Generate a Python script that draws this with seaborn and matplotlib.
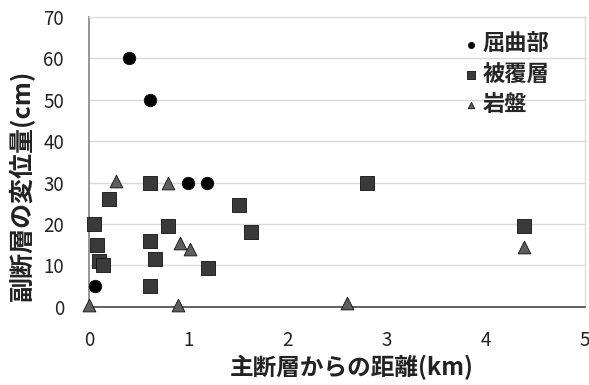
import matplotlib
matplotlib.use("Agg")
import matplotlib.pyplot as plt
import seaborn as sns
import pandas as pd

categories = ["屈曲部", "被覆層", "岩盤"]

bend_x = [0.40, 0.62, 1.00, 1.19, 0.06]
bend_y = [60, 50, 30, 30, 5]

cover_x = [0.05, 0.08, 0.10, 0.14, 0.20, 0.62, 0.62, 0.62, 0.67, 0.80, 1.20, 1.51, 1.63, 2.80, 4.39]
cover_y = [20, 15, 11, 10, 26, 30, 16, 5, 11.5, 19.5, 9.5, 24.5, 18, 30, 19.5]

rock_x = [0.27, 0.80, 0.92, 1.02, 0.90, 0.00, 2.60, 4.39]
rock_y = [30.5, 30, 15.5, 14, 0.5, 0.5, 1, 14.5]

xticks = [0, 1, 2, 3, 4, 5]
yticks = [0, 10, 20, 30, 40, 50, 60, 70]

df = pd.DataFrame({
    "x": bend_x + cover_x + rock_x,
    "y": bend_y + cover_y + rock_y,
    "kind": [categories[0]] * len(bend_x) + [categories[1]] * len(cover_x) + [categories[2]] * len(rock_x),
})

sns.set_theme(style="white")
plt.rcParams['font.family'] = ['Noto Sans CJK JP', 'DejaVu Sans']

fig = plt.figure(figsize=(5.89, 3.85), dpi=100)
ax = fig.add_axes([0.151, 0.203, 0.842, 0.753])

palette = {categories[0]: "#000000", categories[1]: "#3a3a3a", categories[2]: "#5e5e5e"}
markers = {categories[0]: "o", categories[1]: "s", categories[2]: "^"}
sizes_map = {categories[0]: 80, categories[1]: 115, categories[2]: 85}

for k in categories:
    sub = df[df["kind"] == k]
    sns.scatterplot(data=sub, x="x", y="y", ax=ax, color=palette[k], marker=markers[k],
                    s=sizes_map[k], edgecolor="#111111", linewidth=0.6, label=k,
                    clip_on=False, zorder=3)

ax.set_xlim(0, 5)
ax.set_ylim(0, 70)
ax.set_xticks(xticks)
ax.set_yticks(yticks)
ax.tick_params(axis="both", labelsize=13.5, colors="#222222", length=0)
ax.tick_params(axis="y", pad=18)
ax.tick_params(axis="x", pad=17)
ax.yaxis.grid(True, color="#d8d8d8", linewidth=1)
ax.xaxis.grid(False)
ax.set_axisbelow(True)

for side in ["top", "right"]:
    ax.spines[side].set_color("#dddddd")
    ax.spines[side].set_linewidth(1)
ax.spines["left"].set_color("#888888")
ax.spines["bottom"].set_color("#555555")
ax.spines["bottom"].set_linewidth(1.3)

ax.set_xlabel("主断層からの距離(km)", fontsize=17, fontweight="bold", color="#222222")
ax.set_ylabel("副断層の変位量(cm)", fontsize=18, fontweight="bold", color="#222222")
ax.xaxis.set_label_coords(0.53, -0.165)
ax.yaxis.set_label_coords(-0.108, 0.42)

leg = ax.legend(loc="upper right", bbox_to_anchor=(0.955, 0.99), frameon=False,
                prop={"size": 16, "weight": "bold"}, handletextpad=0.1, labelspacing=0.3,
                markerscale=0.5, handlelength=0.8, borderaxespad=0.2)

fig.savefig("out.png", dpi=100)
